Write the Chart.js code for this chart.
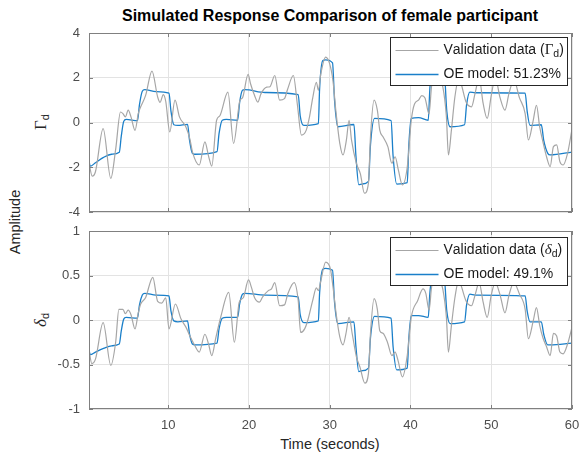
<!DOCTYPE html>
<html>
<head>
<meta charset="utf-8">
<script src="https://cdn.jsdelivr.net/npm/chart.js@4/dist/chart.umd.min.js"></script>
<style>
    body { margin: 0; background: #fff; width: 579px; height: 457px; position: relative; overflow: hidden; font-family: 'Liberation Sans', Arial, sans-serif }
    canvas { position: absolute; left: 0 }
    .lbl { position: absolute; white-space: nowrap; color: #262626; font-size: 14.5px; line-height: 1 }
    .rot { transform: translate(-50%, -50%) rotate(-90deg) }
    .greek { font-family: 'Liberation Serif', 'DejaVu Serif', serif; font-size: 17px }
    sub { font-size: 11px; vertical-align: -3px }
</style>
</head>
<body>
<div class="lbl" style="left:330px;top:16px;transform:translate(-50%,-50%);font-weight:bold;font-size:16px;color:#000">Simulated Response Comparison of female participant</div>
<div class="lbl rot" style="left:15px;top:222px">Amplitude</div>
<div class="lbl rot" style="left:41px;top:122px"><span class="greek">Γ</span><sub>d</sub></div>
<div class="lbl rot" style="left:41px;top:320px"><span class="greek" style="font-style:italic">δ</span><sub>d</sub></div>
<div class="lbl" style="left:330px;top:444px;transform:translate(-50%,-50%)">Time (seconds)</div>

<canvas id="topChart" width="579" height="222" style="top:0"></canvas>
<canvas id="bottomChart" width="579" height="235" style="top:222px"></canvas>

<script>
// ticks
const xTicks = [10, 20, 30, 40, 50, 60]
const gammaTicks = [-4, -2, 0, 2, 4]
const deltaTicks = [-1, -0.5, 0, 0.5, 1]

// top panel, validation data (Gamma_d)
const gammaTime = [0.2, 0.6, 1.0, 1.95, 2.9, 3.5, 4.1, 4.4, 4.7, 5.05, 5.4, 5.9, 6.3, 6.6, 7.2, 8.0, 8.7, 9.0, 9.4, 9.7,
    10.2, 10.85, 11.4, 12.2, 12.7, 13.0, 13.85, 14.55, 15.0, 15.4, 16.0, 16.4, 17.4, 18.1, 18.9, 19.2, 19.9,
    20.2, 20.7, 21.1, 21.5, 22.2, 22.6, 23.2, 23.8, 24.4, 24.8, 25.5, 26.0, 26.5, 27.1, 27.5, 27.9, 28.35, 28.6, 28.9, 29.5,
    30.0, 30.4, 30.8, 31.25, 31.65, 32.07, 32.4, 32.7, 33.3, 33.8, 34.3, 34.8, 35.05, 35.5, 35.9, 36.2, 36.6, 37.2, 37.7, 38.1, 38.5, 39.0, 39.6,
    40.1, 40.5, 41.0, 41.4, 41.8, 42.3, 42.6, 43.0, 43.6, 44.0, 44.45, 44.7, 45.07, 45.5, 46.0, 46.3, 46.9, 47.55, 48.0, 48.5, 49.0, 49.5,
    50.0, 50.5, 51.1, 51.7, 52.2, 52.8, 53.5, 54.2, 54.6, 55.2, 55.6, 56.0, 56.4, 56.85, 57.3, 57.7, 58.1, 58.5, 58.9, 59.45, 60.0]
const gammaData = [-1.8, -2.4, -2.2, -0.27, -2.5, -1.2, 0.47, 0.4, 0.25, 0.55, 0.25, -0.35, 0.4, 0.7, 1.2, 2.3, 1.14, 0.9, 1.25, 0.95,
    -0.42, 1.0, 0.25, -0.2, -0.75, -1.3, -1.9, -0.87, -1.5, -1.95, 0.1, 0.3, 1.36, -0.93, 1.0, 1.1, 2.15,
    1.73, 1.21, 0.91, 1.29, 1.58, 1.6, 2.1, 1.0, 1.07, 1.5, 2.1, 0.8, -0.56, -0.34, 0.25, 1.1, 1.8, 1.44, 2.17, 2.92,
    2.62, 1.88, 0.4, -0.93, -1.45, -0.78, 0.1, -0.78, -1.82, -2.3, -3.16, -2.7, -0.64, 1.0, 0.55, -0.34, -0.64, -1.08, -1.82, -1.53, -2.12, -2.79, -2.0,
    0.1, 0.83, 1.0, 1.2, 1.1, 0.38, 1.58, 2.4, 1.9, 1.6, 0.25, -1.45, -0.34, 1.14, 2.0, 1.7, 0.9, 0.7, 1.3, 2.0, 0.85, 0.18,
    1.2, 2.0, 1.1, 0.55, 1.3, 1.9, 1.1, 0.4, -0.78, 0.1, 0.77, -0.2, -0.86, -1.53, -1.97, -1.08, -1.0, -1.75, -1.9, -1.38, -0.3]

// top panel, OE model
const gammaModelTime = [0.2, 0.35, 1.0, 2.0, 3.0, 3.95, 4.2, 4.5, 4.8, 6.2, 6.45, 6.8, 7.1, 8.5, 10.1, 10.35, 10.7, 11.2, 12.4, 12.65, 13.0, 13.3,
    16.05, 16.3, 16.7, 17.2, 18.6, 18.85, 19.2, 19.5, 22.0, 26.1, 26.35, 26.8, 28.6, 28.75, 29.15, 29.5, 30.35, 30.6, 31.0,
    33.0, 33.25, 33.6, 34.0, 34.8, 35.05, 35.55, 37.6, 37.85, 38.3, 39.6, 39.8, 40.1, 41.0, 42.2, 42.4, 42.7, 44.15, 44.5, 44.9,
    46.7, 46.95, 47.35, 48.0, 54.2, 54.45, 54.8, 56.2, 56.5, 57.0, 57.3, 60.0]
const gammaModel = [-1.7, -1.95, -1.8, -1.56, -1.42, -1.33, -0.6, 0.05, 0.14, 0.08, 0.8, 1.4, 1.47, 1.38, 1.31, 0.5, -0.1, -0.13, -0.08, -0.8, -1.38, -1.42,
    -1.3, -0.5, 0.1, 0.14, 0.1, 0.9, 1.44, 1.47, 1.34, 1.25, 0.3, -0.13, -0.05, 1.5, 2.77, 2.8, 2.66, 1.0, -0.19,
    -0.09, -1.5, -2.78, -2.75, -2.63, -1.0, 0.18, 0.08, -1.5, -2.75, -2.69, -1.0, 0.18, 0.22, 0.1, 1.5, 2.5, 2.4, 0.5, -0.19,
    -0.1, 0.8, 1.36, 1.33, 1.31, 0.5, -0.13, -0.1, -0.8, -1.38, -1.45, -1.32]

// bottom panel, validation data (delta_d)
const deltaTime = [0.2, 0.55, 1.0, 1.95, 2.9, 3.5, 3.9, 4.4, 4.7, 5.05, 5.4, 5.9, 6.3, 6.6, 7.2, 8.1, 8.7, 9.2, 9.7,
    10.1, 10.9, 11.6, 12.2, 12.7, 13.2, 13.85, 14.55, 15.0, 15.4, 15.9, 16.5, 17.5, 18.2, 18.8, 19.3, 19.95,
    20.3, 20.7, 21.3, 21.7, 22.4, 22.8, 23.2, 23.8, 24.4, 24.8, 25.6, 26.1, 26.4, 26.9, 27.3, 27.9, 28.35, 28.6, 28.9, 29.5,
    30.1, 30.4, 30.8, 31.25, 31.65, 32.0, 32.4, 32.8, 33.3, 33.75, 34.35, 34.8, 35.05, 35.5, 35.9, 36.2, 36.6, 37.15, 37.7, 38.1, 38.45, 39.0, 39.6,
    40.1, 40.9, 41.55, 41.9, 42.3, 42.6, 43.0, 43.6, 44.0, 44.45, 44.7, 45.05, 45.5, 46.0, 46.3, 46.9, 47.55, 48.0, 48.5, 49.0, 49.5,
    50.0, 50.5, 51.1, 51.7, 52.2, 52.8, 53.5, 54.2, 54.6, 55.2, 55.6, 56.0, 56.4, 56.85, 57.3, 57.7, 58.1, 58.5, 58.9, 59.45, 60.0]
const deltaData = [-0.34, -0.49, -0.44, -0.03, -0.51, -0.25, 0.12, 0.12, 0.07, 0.11, 0.06, -0.1, 0.08, 0.18, 0.25, 0.48, 0.21, 0.19, 0.25,
    -0.1, 0.18, 0.01, -0.08, -0.18, -0.27, -0.36, -0.16, -0.27, -0.4, -0.2, 0.03, 0.31, -0.25, 0.2, 0.25, 0.45,
    0.37, 0.25, 0.2, 0.26, 0.33, 0.35, 0.42, 0.16, 0.17, 0.29, 0.42, 0.22, -0.14, -0.1, 0.0, 0.22, 0.36, 0.33, 0.44, 0.65,
    0.57, 0.38, 0.07, -0.19, -0.28, -0.16, 0.03, -0.16, -0.41, -0.53, -0.71, -0.6, -0.15, 0.24, 0.12, -0.12, -0.15, -0.25, -0.4, -0.36, -0.45, -0.64, -0.4,
    0.03, 0.22, 0.35, 0.3, 0.11, 0.36, 0.55, 0.45, 0.35, 0.03, -0.36, -0.08, 0.25, 0.45, 0.38, 0.21, 0.16, 0.28, 0.42, 0.2, 0.03,
    0.28, 0.42, 0.28, 0.08, 0.28, 0.42, 0.29, 0.12, -0.21, -0.01, 0.14, -0.06, -0.2, -0.3, -0.4, -0.15, -0.18, -0.36, -0.38, -0.27, -0.08]

// bottom panel, OE model
const deltaModelTime = gammaModelTime
const deltaModel = [-0.33, -0.39, -0.36, -0.32, -0.29, -0.27, -0.12, 0.01, 0.03, 0.02, 0.17, 0.28, 0.3, 0.28, 0.27, 0.1, -0.01, -0.02, -0.01, -0.16, -0.27, -0.28,
    -0.26, -0.1, 0.02, 0.03, 0.03, 0.18, 0.29, 0.3, 0.28, 0.26, 0.06, -0.03, -0.01, 0.3, 0.57, 0.58, 0.56, 0.2, -0.04,
    -0.02, -0.3, -0.58, -0.57, -0.54, -0.2, 0.04, 0.02, -0.3, -0.56, -0.54, -0.2, 0.05, 0.05, 0.03, 0.3, 0.5, 0.5, 0.1, -0.04,
    -0.02, 0.17, 0.29, 0.28, 0.27, 0.1, -0.02, -0.02, -0.16, -0.28, -0.28, -0.26]

const gammaLegend = ['Validation data (Γ_d)', 'OE model: 51.23%']
const deltaLegend = ['Validation data (δ_d)', 'OE model: 49.1%']

const dataColor = '#a6a6a6'
const modelColor = '#1a7fc9'
const boxColor = '#808080'
const tickColor = '#4d4d4d'

function toPoints(xs, ys) {
    return xs.map((x, i) => ({x: x, y: ys[i]}))
}

// axes box, inward tick marks and a MATLAB style legend
const matlabBox = {
    id: 'matlabBox',
    afterDraw(chart, args, opts) {
        const ctx = chart.ctx
        const a = chart.chartArea
        const xs = chart.scales.x
        const ys = chart.scales.y
        ctx.save()
        ctx.strokeStyle = boxColor
        ctx.lineWidth = 1
        ctx.beginPath()
        for (let t of xs.ticks) {
            const px = Math.round(xs.getPixelForValue(t.value)) + 0.5
            ctx.moveTo(px, a.bottom); ctx.lineTo(px, a.bottom - 4)
            ctx.moveTo(px, a.top); ctx.lineTo(px, a.top + 4)
        }
        for (let t of ys.ticks) {
            const py = Math.round(ys.getPixelForValue(t.value)) + 0.5
            ctx.moveTo(a.left, py); ctx.lineTo(a.left + 4, py)
            ctx.moveTo(a.right, py); ctx.lineTo(a.right - 4, py)
        }
        ctx.stroke()
        ctx.strokeRect(Math.round(a.left) + 0.5, Math.round(a.top) + 0.5, Math.round(a.right - a.left) - 1, Math.round(a.bottom - a.top) - 1)

        // legend
        const w = 177, h = 48
        const lx = Math.round(a.right - 5 - w) + 0.5
        const ly = Math.round(a.top + opts.top) + 0.5
        ctx.fillStyle = '#fff'
        ctx.fillRect(lx, ly, w, h)
        ctx.strokeStyle = '#262626'
        ctx.strokeRect(lx, ly, w, h)
        chart.data.datasets.forEach((ds, i) => {
            const cy = ly + 13 + i * 24
            ctx.strokeStyle = ds.borderColor
            ctx.lineWidth = ds.borderWidth
            ctx.beginPath()
            ctx.moveTo(lx + 5, cy)
            ctx.lineTo(lx + 48, cy)
            ctx.stroke()
            drawLabel(ctx, ds.label, lx + 53, cy)
        })
        ctx.restore()
    }
}

function drawLabel(ctx, text, x, y) {
    ctx.fillStyle = '#1a1a1a'
    ctx.textBaseline = 'middle'
    ctx.textAlign = 'left'
    for (let i = 0; i < text.length; i++) {
        let ch = text[i]
        let dy = 0
        if (ch == '_') {
            ch = text[++i]
            ctx.font = '10.5px "Liberation Sans"'
            dy = 4
        } else if (ch == 'Γ') {
            ctx.font = '15px "Liberation Serif"'
        } else if (ch == 'δ') {
            ctx.font = 'italic 15px "Liberation Serif"'
        } else {
            ctx.font = '14px "Liberation Sans"'
        }
        ctx.fillText(ch, x, y + dy)
        x += ctx.measureText(ch).width
    }
}

function makeChart(id, opts) {
    return new Chart(document.getElementById(id), {
        type: 'line',
        data: {
            datasets: [{
                label: opts.legend[0],
                data: toPoints(opts.dataTime, opts.data),
                borderColor: dataColor,
                borderWidth: 1.2,
                pointRadius: 0,
                cubicInterpolationMode: 'monotone',
                clip: 0
            }, {
                label: opts.legend[1],
                data: toPoints(opts.modelTime, opts.model),
                borderColor: modelColor,
                borderWidth: 1.3,
                pointRadius: 0,
                cubicInterpolationMode: 'monotone',
                clip: 0
            }]
        },
        options: {
            responsive: false,
            animation: false,
            devicePixelRatio: 1,
            layout: {padding: opts.padding},
            plugins: {
                legend: {display: false},
                tooltip: {enabled: false},
                matlabBox: {top: opts.legendTop}
            },
            scales: {
                x: {
                    type: 'linear',
                    min: 0.2,
                    max: 60,
                    afterBuildTicks: s => { s.ticks = xTicks.map(v => ({value: v})) },
                    afterFit: s => { s.height = opts.showX ? 30 : 0; s.paddingLeft = 0; s.paddingRight = 0 },
                    border: {display: false},
                    grid: {color: '#e3e3e3', drawTicks: false},
                    ticks: {display: opts.showX, padding: 9, color: tickColor, font: {family: 'Liberation Sans', size: 13}, maxRotation: 0}
                },
                y: {
                    min: opts.yTicks[0],
                    max: opts.yTicks[opts.yTicks.length - 1],
                    afterBuildTicks: s => { s.ticks = opts.yTicks.map(v => ({value: v})) },
                    afterFit: s => { s.width = 89; s.paddingTop = 0; s.paddingBottom = 0 },
                    border: {display: false},
                    grid: {color: '#e3e3e3', drawTicks: false},
                    ticks: {padding: 9, color: tickColor, font: {family: 'Liberation Sans', size: 13}, callback: v => String(v)}
                }
            }
        },
        plugins: [matlabBox]
    })
}

makeChart('topChart', {
    dataTime: gammaTime, data: gammaData,
    modelTime: gammaModelTime, model: gammaModel,
    legend: gammaLegend, yTicks: gammaTicks,
    padding: {top: 33, right: 7, bottom: 10, left: 0},
    legendTop: 4, showX: false
})

makeChart('bottomChart', {
    dataTime: deltaTime, data: deltaData,
    modelTime: deltaModelTime, model: deltaModel,
    legend: deltaLegend, yTicks: deltaTicks,
    padding: {top: 9, right: 7, bottom: 18, left: 0},
    legendTop: 6, showX: true
})
</script>
</body>
</html>
